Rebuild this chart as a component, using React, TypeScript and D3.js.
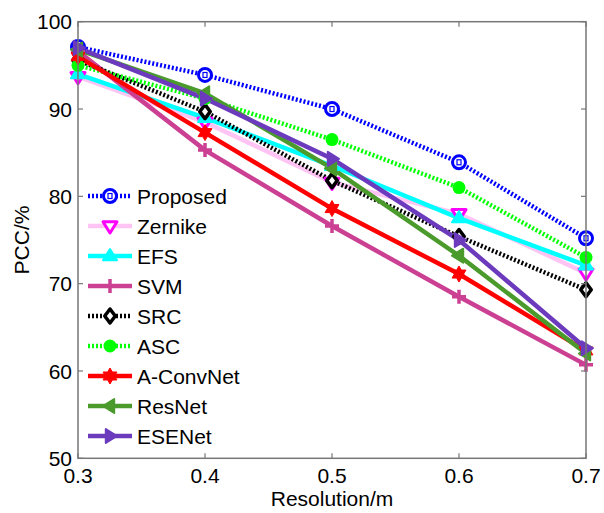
import React from "react";
import * as d3 from "d3";

// Resolution (m) on the x axis
const resolutions = [0.3, 0.4, 0.5, 0.6, 0.7];
const xTicks = [0.3, 0.4, 0.5, 0.6, 0.7];
const yTicks = [50, 60, 70, 80, 90, 100];

// PCC (%) per method
const proposed = [97.1, 93.9, 90.0, 83.9, 75.2];
const zernike = [93.7, 88.5, 81.6, 78.0, 71.2];
const efs = [94.0, 89.0, 83.5, 77.5, 72.1];
const svm = [96.6, 85.3, 76.6, 68.5, 60.7];
const src = [95.6, 89.7, 81.8, 75.4, 69.3];
const asc = [95.0, 91.2, 86.5, 81.0, 73.0];
const aConvNet = [96.0, 87.3, 78.6, 71.1, 62.3];
const resNet = [96.8, 91.8, 83.2, 73.2, 62.0];
const eseNet = [97.0, 91.2, 84.3, 75.0, 62.6];

type Marker =
  | "circleSquare"
  | "triDown"
  | "triUp"
  | "plus"
  | "diamond"
  | "dot"
  | "hexagram"
  | "triLeft"
  | "triRight";

interface Series {
  name: string;
  values: number[];
  line: string;
  mark: string;
  dotted: boolean;
  marker: Marker;
}

const series: Series[] = [
  { name: "Proposed", values: proposed, line: "#0000ff", mark: "#0000ff", dotted: true, marker: "circleSquare" },
  { name: "Zernike", values: zernike, line: "#ffc4f4", mark: "#ff00ff", dotted: false, marker: "triDown" },
  { name: "EFS", values: efs, line: "#00ffff", mark: "#00ffff", dotted: false, marker: "triUp" },
  { name: "SVM", values: svm, line: "#cc4093", mark: "#cc4093", dotted: false, marker: "plus" },
  { name: "SRC", values: src, line: "#000000", mark: "#000000", dotted: true, marker: "diamond" },
  { name: "ASC", values: asc, line: "#00ff00", mark: "#00ff00", dotted: true, marker: "dot" },
  { name: "A-ConvNet", values: aConvNet, line: "#ff0000", mark: "#ff0000", dotted: false, marker: "hexagram" },
  { name: "ResNet", values: resNet, line: "#4a9a2c", mark: "#4a9a2c", dotted: false, marker: "triLeft" },
  { name: "ESENet", values: eseNet, line: "#6c3bbd", mark: "#6c3bbd", dotted: false, marker: "triRight" },
];

const W = 604;
const H = 513;
const plot = { left: 78, right: 586, top: 21.7, bottom: 458.3 };
const font = "'Liberation Sans', Arial, sans-serif";

const x = d3.scaleLinear().domain([0.3, 0.7]).range([plot.left, plot.right]);
const y = d3.scaleLinear().domain([50, 100]).range([plot.bottom, plot.top]);

function hexagramPath(cx: number, cy: number, r: number): string {
  const pts: [number, number][] = [];
  for (let i = 0; i < 12; i++) {
    const a = (Math.PI / 6) * i - Math.PI / 2;
    const rr = i % 2 === 0 ? r : r * 0.58;
    pts.push([cx + rr * Math.cos(a), cy + rr * Math.sin(a)]);
  }
  return "M" + pts.map((p) => p.join(",")).join("L") + "Z";
}

function MarkerShape({ m, cx, cy, color }: { m: Marker; cx: number; cy: number; color: string }) {
  const s = 7;
  switch (m) {
    case "circleSquare":
      return (
        <g>
          <circle cx={cx} cy={cy} r={6.5} fill="#fff" stroke={color} strokeWidth={3} />
          <rect x={cx - 2} y={cy - 2.5} width={4} height={5} fill="none" stroke={color} strokeWidth={1.2} />
        </g>
      );
    case "triDown":
      return (
        <path
          d={`M${cx - s},${cy - s * 0.6}L${cx + s},${cy - s * 0.6}L${cx},${cy + s}Z`}
          fill="#fff"
          stroke={color}
          strokeWidth={3}
          strokeLinejoin="round"
        />
      );
    case "triUp":
      return (
        <path
          d={`M${cx - s},${cy + s * 0.6}L${cx + s},${cy + s * 0.6}L${cx},${cy - s}Z`}
          fill={color}
          stroke={color}
          strokeWidth={2}
          strokeLinejoin="round"
        />
      );
    case "plus":
      return (
        <path
          d={`M${cx - s},${cy}L${cx + s},${cy}M${cx},${cy - s}L${cx},${cy + s}`}
          stroke={color}
          strokeWidth={3.5}
        />
      );
    case "diamond":
      return (
        <path
          d={`M${cx},${cy - s}L${cx + s * 0.75},${cy}L${cx},${cy + s}L${cx - s * 0.75},${cy}Z`}
          fill="#fff"
          stroke={color}
          strokeWidth={3.5}
          strokeLinejoin="round"
        />
      );
    case "dot":
      return <circle cx={cx} cy={cy} r={6.5} fill={color} />;
    case "hexagram":
      return <path d={hexagramPath(cx, cy, 8)} fill={color} stroke={color} strokeWidth={1} />;
    case "triLeft":
      return (
        <path
          d={`M${cx + s * 0.6},${cy - s}L${cx + s * 0.6},${cy + s}L${cx - s},${cy}Z`}
          fill={color}
          stroke={color}
          strokeWidth={2}
          strokeLinejoin="round"
        />
      );
    case "triRight":
      return (
        <path
          d={`M${cx - s * 0.6},${cy - s}L${cx - s * 0.6},${cy + s}L${cx + s},${cy}Z`}
          fill={color}
          stroke={color}
          strokeWidth={2}
          strokeLinejoin="round"
        />
      );
  }
  return null;
}

export default function App() {
  const line = d3
    .line<number>()
    .x((_, i) => x(resolutions[i]))
    .y((v) => y(v));

  const legendX0 = 88;
  const legendX1 = 132;
  const legendY0 = 196;
  const legendStep = 30;

  return (
    <svg width={W} height={H} style={{ display: "block", position: "absolute", left: 0, top: 0 }}>
      <rect width={W} height={H} fill="#fff" />

      {/* Data lines */}
      {series.map((s) => (
        <path
          key={s.name}
          d={line(s.values) || ""}
          fill="none"
          stroke={s.line}
          strokeWidth={s.dotted ? 4.5 : 4.5}
          strokeDasharray={s.dotted ? "2,2" : undefined}
        />
      ))}
      {series.map((s) => (
        <g key={s.name + "-m"}>
          {s.values.map((v, i) => (
            <MarkerShape key={i} m={s.marker} cx={x(resolutions[i])} cy={y(v)} color={s.mark} />
          ))}
        </g>
      ))}

      {/* Axes box */}
      <rect
        x={plot.left}
        y={plot.top}
        width={plot.right - plot.left}
        height={plot.bottom - plot.top}
        fill="none"
        stroke="#777"
        strokeWidth={1.5}
      />
      {xTicks.map((t) => (
        <g key={"xt" + t}>
          <line x1={x(t)} x2={x(t)} y1={plot.bottom} y2={plot.bottom - 5} stroke="#777" strokeWidth={1.2} />
          <line x1={x(t)} x2={x(t)} y1={plot.top} y2={plot.top + 5} stroke="#777" strokeWidth={1.2} />
          <text x={x(t)} y={483} textAnchor="middle" fontFamily={font} fontSize={21} fill="#000">
            {t.toFixed(1)}
          </text>
        </g>
      ))}
      {yTicks.map((t) => (
        <g key={"yt" + t}>
          <line x1={plot.left} x2={plot.left + 5} y1={y(t)} y2={y(t)} stroke="#777" strokeWidth={1.2} />
          <line x1={plot.right} x2={plot.right - 5} y1={y(t)} y2={y(t)} stroke="#777" strokeWidth={1.2} />
          <text
            x={72}
            y={y(t)}
            dy="0.36em"
            textAnchor="end"
            fontFamily={font}
            fontSize={21}
            fill="#000"
          >
            {t}
          </text>
        </g>
      ))}

      {/* Axis titles */}
      <text x={(plot.left + plot.right) / 2} y={506} textAnchor="middle" fontFamily={font} fontSize={21} fill="#000">
        Resolution/m
      </text>
      <text
        transform={`translate(29,${(plot.top + plot.bottom) / 2}) rotate(-90)`}
        textAnchor="middle"
        fontFamily={font}
        fontSize={21}
        fill="#000"
      >
        PCC/%
      </text>

      {/* Legend */}
      {series.map((s, i) => {
        const ly = legendY0 + i * legendStep;
        return (
          <g key={"lg" + s.name}>
            <line
              x1={legendX0}
              x2={legendX1}
              y1={ly}
              y2={ly}
              stroke={s.line}
              strokeWidth={4.5}
              strokeDasharray={s.dotted ? "2,2" : undefined}
            />
            <MarkerShape m={s.marker} cx={(legendX0 + legendX1) / 2} cy={ly} color={s.mark} />
            <text x={137} y={ly} dy="0.36em" fontFamily={font} fontSize={21} fill="#000">
              {s.name}
            </text>
          </g>
        );
      })}
    </svg>
  );
}
